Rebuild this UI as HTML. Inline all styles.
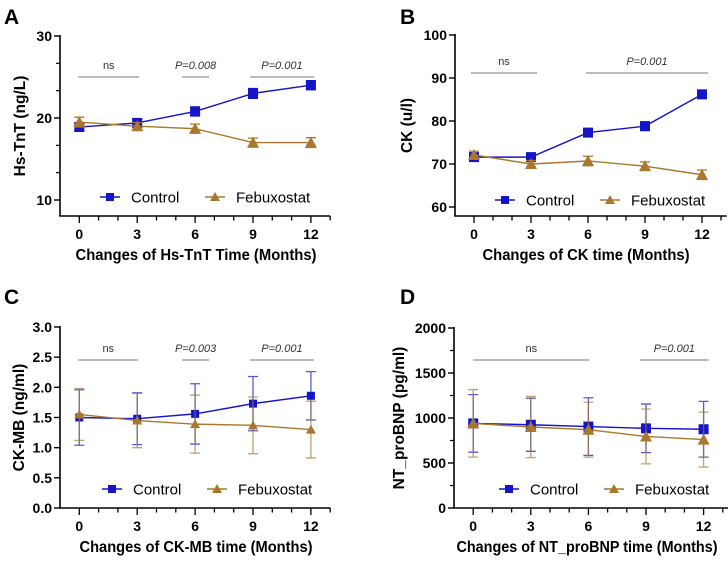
<!DOCTYPE html>
<html><head><meta charset="utf-8">
<style>
html,body{margin:0;padding:0;background:#fff;}
svg text{font-family:"Liberation Sans",Arial,sans-serif;}
</style></head>
<body>
<svg id="fig" width="728" height="558" viewBox="0 0 728 558" xmlns="http://www.w3.org/2000/svg"></svg>
<script>
// shared x categories
const months = [0, 3, 6, 9, 12];
const xTickLabels = ["0", "3", "6", "9", "12"];

// Panel A: Hs-TnT
const aControl = [18.9, 19.4, 20.8, 23.0, 24.0];
const aControlErr = [0.5, 0.5, 0.55, 0.6, 0.55];
const aFeb = [19.5, 19.0, 18.7, 17.0, 17.0];
const aFebErr = [0.6, 0.45, 0.55, 0.55, 0.6];
const aYTicks = [10, 20, 30];

// Panel B: CK
const bControl = [71.6, 71.6, 77.3, 78.8, 86.2];
const bControlErr = [0.8, 0.8, 0.9, 1.0, 0.9];
const bFeb = [72.1, 70.0, 70.7, 69.5, 67.5];
const bFebErr = [0.9, 0.8, 1.1, 1.0, 1.1];
const bYTicks = [60, 70, 80, 90, 100];

// Panel C: CK-MB
const cControl = [1.50, 1.48, 1.56, 1.73, 1.86];
const cControlErr = [0.46, 0.43, 0.50, 0.45, 0.40];
const cFeb = [1.55, 1.45, 1.39, 1.37, 1.30];
const cFebErr = [0.43, 0.45, 0.48, 0.47, 0.47];
const cYTicks = [0.0, 0.5, 1.0, 1.5, 2.0, 2.5, 3.0];
const cYTickLabels = ["0.0", "0.5", "1.0", "1.5", "2.0", "2.5", "3.0"];

// Panel D: NT_proBNP
const dControl = [940, 925, 905, 885, 875];
const dControlErr = [320, 295, 320, 270, 310];
const dFeb = [940, 900, 870, 795, 760];
const dFebErr = [375, 340, 305, 305, 305];
const dYTicks = [0, 500, 1000, 1500, 2000];

const NS = "http://www.w3.org/2000/svg";
const svg = document.getElementById('fig');
const CBLUE = "#1414c8", CFEB = "#a8782c";

function mk(tag, attrs, parent) {
  const e = document.createElementNS(NS, tag);
  for (const k in attrs) e.setAttribute(k, attrs[k]);
  (parent || svg).appendChild(e);
  return e;
}

function panel(cfg) {
  const g = mk('g', {});
  
  
  const X = v => cfg.ax + (v - (-1)) * cfg.pxm;
  const Y = v => cfg.y0px + (v - cfg.ymin) * (cfg.y1px - cfg.y0px) / (cfg.ymax - cfg.ymin);
  const xEnd = X(cfg.xmaxm);
  const L = mk('text', {x: cfg.letterX, y: cfg.letterY, 'font-size': 21, 'font-weight': 'bold', fill: '#000'}, g);
  L.textContent = cfg.id.toUpperCase();
  
  
  const ya = mk('line', {x1: cfg.ax, y1: cfg.y1px - 1, x2: cfg.ax, y2: cfg.axisY, stroke: '#000', 'stroke-width': 1.6}, g);
  
  
  const xa = mk('line', {x1: cfg.ax - 0.8, y1: cfg.axisY, x2: xEnd, y2: cfg.axisY, stroke: '#000', 'stroke-width': 1.6}, g);
  
  
  cfg.yticks.forEach((t, i) => {
    const y = Y(t);
    mk('line', {x1: cfg.ax - 6, y1: y, x2: cfg.ax, y2: y, stroke: '#000', 'stroke-width': 1.4}, g);
    const tx = mk('text', {x: cfg.ax - 8, y: y + 5, 'font-size': 14, 'font-weight': 'bold', 'text-anchor': 'end'}, g);
    tx.textContent = cfg.ylabels ? cfg.ylabels[i] : String(t);
    
    
    if (cfg.minors && i < cfg.yticks.length - 1) {
      const step = (cfg.yticks[i + 1] - t) / cfg.minors;
      for (let k = 1; k < cfg.minors; k++) {
        const ym = Y(t + k * step);
        mk('line', {x1: cfg.ax - 4, y1: ym, x2: cfg.ax, y2: ym, stroke: '#000', 'stroke-width': 1.2}, g);
      }
    }
  });
  for (let m = 0; m <= 13; m++) {
    const x = X(m);
    const major = months.indexOf(m) >= 0;
    mk('line', {x1: x, y1: cfg.axisY, x2: x, y2: cfg.axisY + (major ? 7 : 4.5), stroke: '#000', 'stroke-width': 1.3}, g);
  }
  months.forEach((m, i) => {
    const tx = mk('text', {x: X(m), y: cfg.axisY + 23, 'font-size': 14, 'font-weight': 'bold', 'text-anchor': 'middle'}, g);
    tx.textContent = xTickLabels[i];
    
    
  });
  const xt = mk('text', {x: cfg.xtC, y: cfg.axisY + 44, 'font-size': 15.5, 'font-weight': 'bold', 'text-anchor': 'middle', textLength: cfg.xtW, lengthAdjust: 'spacingAndGlyphs'}, g);
  xt.textContent = cfg.xtitle;
  
  
  const yc = (cfg.y1px + cfg.axisY) / 2;
  const yt = mk('text', {x: 0, y: 0, 'font-size': 15.5, 'font-weight': 'bold', 'text-anchor': 'middle', transform: `translate(${cfg.ytX},${yc}) rotate(-90)`}, g);
  yt.textContent = cfg.ytitle;
  
  
  cfg.sig.forEach(s => {
    const sl = mk('line', {x1: X(s[0]) + s[3], y1: cfg.sigY, x2: X(s[1]) + s[4], y2: cfg.sigY, stroke: '#777', 'stroke-width': 1}, g);
    
    
    const st = mk('text', {x: (X(s[0]) + s[3] + X(s[1]) + s[4]) / 2, y: cfg.sigY - 8, 'font-size': 11, 'text-anchor': 'middle', fill: '#333', 'font-style': s[2] === 'ns' ? 'normal' : 'italic'}, g);
    st.textContent = s[2];
    
    
  });
  function series(vals, errs, color, shape, name, ealpha) {
    const sg = mk('g', {}, g);
    
    
    vals.forEach((v, i) => {
      const x = X(months[i]);
      const e = mk('path', {d: `M${x},${Y(v - errs[i])}V${Y(v + errs[i])}M${x - 5},${Y(v + errs[i])}H${x + 5}M${x - 5},${Y(v - errs[i])}H${x + 5}`, stroke: color, 'stroke-width': 1.3, fill: 'none', opacity: ealpha}, sg);
      
      
    });
    const pts = vals.map((v, i) => X(months[i]) + ',' + Y(v)).join(' ');
    const pl = mk('polyline', {points: pts, fill: 'none', stroke: color, 'stroke-width': 1.4}, sg);
    
    
    vals.forEach((v, i) => {
      const x = X(months[i]), y = Y(v);
      let mkr;
      if (shape === 'sq') mkr = mk('rect', {x: x - cfg.ms, y: y - cfg.ms, width: 2 * cfg.ms, height: 2 * cfg.ms, fill: color}, sg);
      else mkr = mk('path', {d: `M${x},${y - cfg.ms - 1}L${x + cfg.ms + 1},${y + cfg.ms}L${x - cfg.ms - 1},${y + cfg.ms}Z`, fill: color}, sg);
      
      
    });
  }
  series(cfg.ctrl, cfg.ctrlErr, CBLUE, 'sq', 'control', cfg.ealpha);
  series(cfg.feb, cfg.febErr, CFEB, 'tri', 'febuxostat', cfg.ealpha);
  const lg = mk('g', {}, g);
  
  
  const lx = cfg.ax + cfg.legX, ly = cfg.legY;
  const e1 = mk('g', {}, lg);
  
  
  mk('line', {x1: lx, y1: ly, x2: lx + 20, y2: ly, stroke: CBLUE, 'stroke-width': 1.4}, e1);
  mk('rect', {x: lx + 6, y: ly - 4, width: 8, height: 8, fill: CBLUE}, e1);
  const t1 = mk('text', {x: lx + 31, y: ly + 5.5, 'font-size': 15}, e1);
  t1.textContent = 'Control';
  const fx = lx + 105;
  const e2 = mk('g', {}, lg);
  
  
  mk('line', {x1: fx, y1: ly, x2: fx + 20, y2: ly, stroke: CFEB, 'stroke-width': 1.4}, e2);
  mk('path', {d: `M${fx + 10},${ly - 5}L${fx + 15},${ly + 4}L${fx + 5},${ly + 4}Z`, fill: CFEB}, e2);
  const t2 = mk('text', {x: fx + 31, y: ly + 5.5, 'font-size': 15}, e2);
  t2.textContent = 'Febuxostat';
}

panel({id: 'a', ax: 60, pxm: 19.3, xmaxm: 13, axisY: 216, y0px: 200, y1px: 36, ymin: 10, ymax: 30,
  yticks: aYTicks, minors: 3, xtitle: 'Changes of Hs-TnT Time (Months)', xtC: 196, xtW: 241, ytitle: 'Hs-TnT (ng/L)', ytX: 25,
  ctrl: aControl, ctrlErr: aControlErr, feb: aFeb, febErr: aFebErr, letterX: 4, letterY: 24, ms: 5, ealpha: 1,
  sigY: 77, sig: [[0, 3, 'ns', -1, 2], [6, 6, 'P=0.008', -13, 14], [9, 12, 'P=0.001', -3, 3]],
  legX: 40, legY: 197});
panel({id: 'b', ax: 455, pxm: 19.0, xmaxm: 13.3, axisY: 216, y0px: 207, y1px: 35, ymin: 60, ymax: 100,
  yticks: bYTicks, minors: 0, xtitle: 'Changes of CK time (Months)', xtC: 586, xtW: 207, ytitle: 'CK (u/l)', ytX: 412,
  ctrl: bControl, ctrlErr: bControlErr, feb: bFeb, febErr: bFebErr, letterX: 400, letterY: 24, ms: 5, ealpha: 1,
  sigY: 73, sig: [[0, 3, 'ns', -3, 6], [6, 12, 'P=0.001', -2, 6]],
  legX: 40, legY: 200});
panel({id: 'c', ax: 60, pxm: 19.3, xmaxm: 13, axisY: 508, y0px: 508, y1px: 327, ymin: 0, ymax: 3,
  yticks: cYTicks, ylabels: cYTickLabels, minors: 0, xtitle: 'Changes of CK-MB time (Months)', xtC: 196, xtW: 233, ytitle: 'CK-MB (ng/ml)', ytX: 24,
  ctrl: cControl, ctrlErr: cControlErr, feb: cFeb, febErr: cFebErr, letterX: 4, letterY: 304, ms: 4, ealpha: 0.7,
  sigY: 360, sig: [[0, 3, 'ns', -1, 1], [6, 6, 'P=0.003', -13, 14], [9, 12, 'P=0.001', -3, 3]],
  legX: 42, legY: 489});
panel({id: 'd', ax: 454, pxm: 19.2, xmaxm: 13.3, axisY: 508, y0px: 508, y1px: 328, ymin: 0, ymax: 2000,
  yticks: dYTicks, minors: 2, xtitle: 'Changes of NT_proBNP time (Months)', xtC: 587, xtW: 261, ytitle: 'NT_proBNP (pg/ml)', ytX: 404,
  ctrl: dControl, ctrlErr: dControlErr, feb: dFeb, febErr: dFebErr, letterX: 400, letterY: 304, ms: 5, ealpha: 0.7,
  sigY: 360, sig: [[0, 6, 'ns', 0, 1], [9, 12, 'P=0.001', -6, 5]],
  legX: 45, legY: 489});
</script>
</body></html>
